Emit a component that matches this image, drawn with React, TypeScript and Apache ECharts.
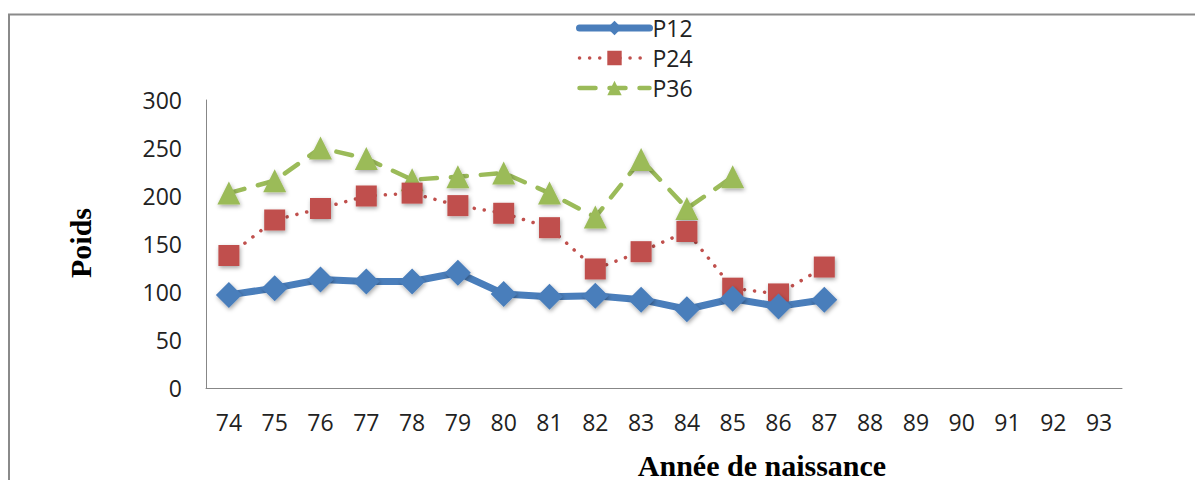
import React, { useEffect, useRef } from "react";
import * as echarts from "echarts";

const categories = ["74","75","76","77","78","79","80","81","82","83","84","85","86","87","88","89","90","91","92","93"];
const p12 = [97, 104, 113, 111, 111, 120, 98, 95, 96, 92, 82, 93, 85, 92, null, null, null, null, null, null];
const p24 = [138, 175, 187, 200, 203, 190, 182, 167, 124, 142, 163, 104, 98, 126, null, null, null, null, null, null];
const p36 = [203, 216, 250, 239, 217, 220, 224, 203, 178, 238, 187, 220, null, null, null, null, null, null, null, null];
const yTicks = { min: 0, max: 300, interval: 50 };

const BLUE = "#4A7EBB";
const RED = "#C0504D";
const GREEN = "#9BBB59";
const AXIS = "#878787";
const FONT = "'Open Sans', 'DejaVu Sans', sans-serif";
const SERIF = "'Liberation Serif', 'DejaVu Serif', serif";

const shadow = { shadowBlur: 4, shadowColor: "rgba(0,0,0,0.35)", shadowOffsetX: 1, shadowOffsetY: 2 };

export default function App() {
  const ref = useRef<HTMLDivElement>(null);
  useEffect(() => {
    if (!ref.current) return;
    const chart = echarts.init(ref.current, null, { renderer: "svg" });
    chart.setOption({
      animation: false,
      backgroundColor: "#fff",
      grid: { left: 198, top: 92, right: 81, bottom: 92, containLabel: false },
      legend: {
        orient: "vertical",
        left: 563,
        top: 3,
        itemWidth: 70,
        itemHeight: 18,
        itemGap: 6,
        lineStyle: { width: "inherit" },
        textStyle: { fontFamily: FONT, fontSize: 23, color: "#222", lineHeight: 24, padding: [0, 0, 0, -2] },
        data: ["P12", "P24", "P36"],
      },
      xAxis: {
        type: "category",
        data: categories,
        boundaryGap: true,
        axisLine: { lineStyle: { color: AXIS, width: 1 } },
        axisTick: { show: false },
        axisLabel: { fontFamily: FONT, fontSize: 23, color: "#222", margin: 22, interval: 0 },
        splitLine: { show: false },
      },
      yAxis: {
        type: "value",
        min: yTicks.min,
        max: yTicks.max,
        interval: yTicks.interval,
        axisLine: { show: true, lineStyle: { color: AXIS, width: 1 } },
        axisTick: { show: false },
        axisLabel: { fontFamily: FONT, fontSize: 23, color: "#222", margin: 24 },
        splitLine: { show: false },
      },
      series: [
        {
          name: "P12",
          type: "line",
          data: p12,
          symbol: "diamond",
          symbolSize: 26,
          lineStyle: { color: BLUE, width: 7, cap: "round", join: "round" },
          itemStyle: { color: BLUE, ...shadow },
          z: 3,
        },
        {
          name: "P24",
          type: "line",
          data: p24,
          symbol: "rect",
          symbolSize: 21,
          lineStyle: { color: RED, width: 3.5, type: [0.1, 10], cap: "round" },
          itemStyle: { color: RED, ...shadow },
          z: 2,
        },
        {
          name: "P36",
          type: "line",
          data: p36,
          symbol: "triangle",
          symbolSize: 23,
          lineStyle: { color: GREEN, width: 4.5, type: [16, 14], cap: "round" },
          itemStyle: { color: GREEN, ...shadow },
          z: 1,
        },
      ],
      graphic: [
        {
          type: "rect",
          shape: { x: 1, y: 6.5, width: 2000, height: 2000 },
          style: { fill: "none", stroke: "#8a8a8a", lineWidth: 2 },
          silent: true,
        },
        {
          type: "text",
          x: 72,
          y: 235,
          rotation: Math.PI / 2,
          style: { text: "Poids", font: `bold 30px ${SERIF}`, fill: "#000", align: "center", verticalAlign: "middle" },
        },
        {
          type: "text",
          x: 754,
          y: 457,
          style: { text: "Année de naissance", font: `bold 30px ${SERIF}`, fill: "#000", align: "center", verticalAlign: "middle" },
        },
      ],
    });
    return () => chart.dispose();
  }, []);
  return <div ref={ref} style={{ width: 1195, height: 472 }} />;
}
